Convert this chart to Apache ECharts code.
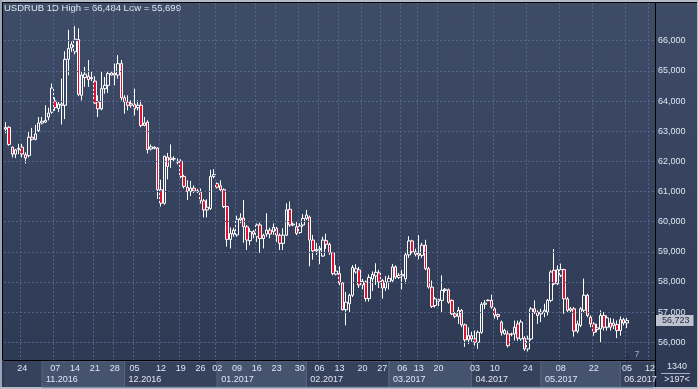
<!DOCTYPE html>
<html><head><meta charset="utf-8">
<script src="https://cdn.jsdelivr.net/npm/echarts@6/dist/echarts.min.js"></script>
<style>html,body{margin:0;padding:0;background:#36425c}#c{width:698px;height:389px}</style>
</head><body><div id="c"></div>
<script>
// ---- data (USDRUB daily) ----
const opens = [63.07,63.13,62.47,62.24,62.40,62.47,62.22,62.19,62.80,62.73,63.02,63.27,63.30,63.47,63.63,64.00,63.75,63.86,63.86,65.38,65.76,65.63,66.04,64.19,64.78,64.82,64.74,64.66,63.97,63.74,64.41,64.52,64.86,64.91,64.86,65.24,64.11,63.97,63.86,63.89,63.78,63.86,63.19,63.30,62.41,62.43,62.44,61.06,60.61,62.14,62.06,62.09,61.97,62.00,61.50,61.14,61.00,61.11,60.99,60.99,60.69,60.39,60.44,61.50,61.26,61.19,61.06,60.50,59.41,59.59,59.56,60.06,60.12,59.83,59.37,59.67,59.50,59.89,59.44,59.59,59.72,59.67,59.78,59.55,59.28,59.55,60.41,59.89,59.83,59.64,59.89,60.11,60.15,59.39,59.03,59.06,58.86,59.37,59.25,58.97,58.26,58.28,57.97,57.08,57.28,57.56,58.33,58.40,57.90,58.00,57.45,58.10,58.20,58.30,58.05,57.80,58.00,58.05,58.50,58.15,58.20,58.10,58.90,59.36,58.92,58.95,58.88,59.22,58.44,57.83,57.22,57.36,57.39,57.72,57.74,57.39,56.94,56.86,57.06,56.58,56.08,56.22,56.11,56.00,56.33,57.26,57.38,57.39,57.11,56.92,56.67,56.28,56.28,56.26,56.28,56.61,56.11,56.14,55.78,56.11,57.11,57.00,56.94,57.00,57.00,57.39,58.39,57.94,58.22,58.41,57.44,57.06,57.11,56.37,56.56,57.06,57.56,56.83,56.61,56.42,56.44,56.89,56.50,56.64,56.56,56.59,56.39,56.75,56.64];
const closes = [63.12,62.56,62.24,62.38,62.43,62.24,62.11,62.80,62.73,62.91,63.27,63.33,63.36,63.60,64.43,63.78,63.90,63.90,65.38,65.74,65.88,66.05,64.22,64.86,64.89,64.71,64.78,63.93,63.74,64.41,64.52,64.91,64.93,64.86,65.24,64.11,63.97,63.86,63.91,63.74,63.86,63.19,63.27,62.39,62.48,62.47,61.06,60.61,62.17,61.83,62.11,62.08,62.00,61.50,61.17,61.00,61.11,61.02,61.02,60.69,60.39,60.48,61.50,61.56,61.14,61.06,60.50,59.41,59.61,59.72,60.08,60.12,59.83,59.39,59.67,59.59,59.89,59.44,59.55,59.72,59.59,59.81,59.55,59.28,59.55,60.39,59.89,59.92,59.61,59.86,60.11,60.22,59.39,59.03,59.08,59.11,59.39,59.25,58.97,58.28,58.36,57.97,57.08,57.33,57.56,58.48,58.44,57.90,58.02,57.45,58.15,58.25,58.32,58.00,57.80,58.00,58.12,58.50,58.16,58.22,58.25,58.90,59.36,59.00,59.00,58.88,59.22,58.44,57.83,57.19,57.44,57.42,57.72,57.76,57.33,56.94,56.86,57.06,56.58,56.08,56.22,56.11,56.00,56.33,57.26,57.30,57.40,57.17,56.89,56.86,56.33,56.39,55.89,56.28,56.50,56.14,56.67,55.78,56.11,57.11,57.00,56.89,57.00,57.06,57.39,58.33,57.94,58.41,58.41,57.44,57.06,57.11,56.37,56.61,57.11,57.56,56.89,56.61,56.33,56.48,56.89,56.50,56.81,56.50,56.64,56.39,56.75,56.64,56.723];
const lows = [62.93,62.52,62.13,62.11,62.24,62.13,61.93,62.13,62.69,62.69,62.97,63.22,63.27,63.36,63.58,63.68,63.63,63.22,63.40,64.85,65.63,65.55,64.16,64.02,64.47,64.47,64.66,63.91,63.47,63.69,64.24,64.27,64.86,64.52,64.74,64.02,63.58,63.69,63.78,63.52,63.69,63.13,63.16,62.26,62.36,62.40,60.75,60.50,60.56,61.40,61.78,62.00,61.90,61.44,61.10,60.72,60.85,60.95,60.95,60.60,60.14,60.14,60.39,61.44,61.10,61.00,60.45,59.17,59.11,59.50,59.50,59.95,59.30,59.06,59.22,59.45,59.33,58.97,59.11,59.50,59.45,59.56,59.33,59.06,59.06,59.52,59.83,59.85,59.55,59.60,59.83,60.05,58.52,58.74,58.90,58.59,58.83,59.10,58.90,58.22,58.22,57.89,57.05,56.56,57.00,57.50,58.28,57.80,57.75,57.35,57.35,57.70,57.90,57.80,57.45,57.70,57.75,58.00,58.10,58.10,57.75,57.95,58.80,58.95,58.85,58.75,58.80,58.39,57.78,57.14,57.15,57.20,56.97,57.65,57.28,56.90,56.80,56.61,56.50,55.85,55.94,56.02,55.89,55.78,56.28,57.10,57.36,57.11,56.78,56.75,56.22,56.25,55.83,56.20,56.06,56.05,56.05,55.72,55.699,56.06,56.94,56.61,56.67,56.83,56.89,57.33,57.89,57.89,58.16,56.94,57.00,57.00,56.19,56.30,56.50,57.00,56.83,56.50,56.22,56.33,56.00,56.39,56.39,56.39,56.44,56.14,56.22,56.56,56.47];
const highs = [63.30,63.16,62.49,62.41,62.58,62.58,62.30,62.97,63.11,63.21,63.47,63.47,63.86,63.78,64.58,64.12,63.97,64.74,65.65,66.36,65.97,66.484,66.41,64.97,65.13,65.36,64.97,64.82,64.19,64.97,64.80,64.97,64.97,65.24,65.52,65.36,64.19,64.19,64.02,64.41,64.02,64.02,63.47,63.36,62.56,62.50,62.47,61.39,62.19,62.28,62.56,62.17,62.10,62.07,61.55,61.37,61.35,61.20,61.08,61.10,60.75,60.74,61.72,61.74,61.30,61.37,61.10,60.52,59.81,59.80,60.20,60.28,60.72,59.89,59.78,59.72,59.94,59.97,59.60,60.28,59.80,59.94,59.83,59.61,59.78,60.61,60.67,59.97,60.00,59.95,60.25,60.39,60.20,59.56,59.30,59.20,59.50,59.60,59.30,59.00,58.56,58.52,58.00,57.67,57.61,58.56,58.59,58.50,58.10,58.05,58.25,58.35,58.62,58.40,58.10,58.20,58.22,58.60,58.55,58.30,58.40,59.00,59.52,59.40,59.10,59.55,59.30,59.40,58.50,58.05,57.50,57.45,58.22,57.80,57.78,57.42,57.00,57.17,57.10,56.62,56.50,56.35,56.39,56.39,57.33,57.40,57.42,57.58,57.17,56.95,56.72,56.45,56.39,56.32,56.72,56.72,56.75,56.20,56.22,57.17,57.39,57.06,57.11,57.28,57.44,58.39,59.09,58.55,58.61,58.44,57.50,57.17,57.17,56.72,57.17,58.11,57.61,56.89,56.67,56.61,57.06,57.00,56.89,56.81,56.78,56.72,56.86,56.81,56.81];

const slotCount = 197;                       // visible bar slots (">197<")
const slots = Array.from({length: slotCount}, (_, i) => 'b' + i);
const dayLabelIdx  = [5,15,21,27,33,39,47,53,59,64,70,76,82,89,95,101,108,114,120,125,131,142,148,158,168,178,188,195];
const dayLabelText = ['24','07','14','21','28','05','12','19','26','02','09','16','23','30','06','13','20','27','06','13','20','03','10','24','08','22','05','12'];
const monthIdx  = [11,36,64,91,116,141,162,186];
const monthText = ['11.2016','12.2016','01.2017','02.2017','03.2017','04.2017','05.2017','06.2017'];
const yTicks = [56,57,58,59,60,61,62,63,64,65,66];
const yMin = 55.413, yMax = 67.25;

// ---- build ----
const candles = opens.map((o, i) => [o, closes[i], lows[i], highs[i]]);
const slotIndex = v => +String(v).slice(1);
const dayMap = {}; dayLabelIdx.forEach((k, j) => dayMap[k] = dayLabelText[j]);
const monMap = {}; monthIdx.forEach((k, j) => monMap[k] = monthText[j]);
const fmt = v => v.toFixed(3).replace('.', ',');
const hi = Math.max(...highs), lo = Math.min(...lows);
const lastClose = closes[closes.length - 1];
const FONT = 'Liberation Sans, Arial, sans-serif';
const TXT = '#dfe6f2';
const GRID = '#55648a';

const monthAreas = monthIdx.map((s, j) => {
  const e = j + 1 < monthIdx.length ? monthIdx[j + 1] : slotCount - 1;
  return [{xAxis: slots[s], itemStyle: {color: j % 2 === 0 ? '#46536f' : '#36425c', borderColor: '#56647f', borderWidth: 1}},
          {xAxis: slots[e]}];
});

const chart = echarts.init(document.getElementById('c'), null, {renderer: 'canvas'});
chart.setOption({
  animation: false,
  backgroundColor: new echarts.graphic.LinearGradient(0, 0, 0, 1, [
    {offset: 0, color: '#3f4c68'}, {offset: 1, color: '#2d3953'}]),
  title: {text: 'USDRUB 1D High = ' + fmt(hi) + ' Low = ' + fmt(lo), left: 4, top: 3, padding: 0,
    textStyle: {fontSize: 9.5, fontWeight: 'normal', color: TXT, fontFamily: FONT}},
  grid: [
    {left: 4, right: 43, top: 3, bottom: 29, show: false},
    {left: 4, right: 43, top: 361, bottom: 2, show: true, backgroundColor: '#36425c', borderWidth: 0}
  ],
  xAxis: [
    {type: 'category', gridIndex: 0, data: slots, boundaryGap: true, z: 10,
      axisLine: {show: true, lineStyle: {color: '#000', width: 1}},
      axisTick: {show: false},
      axisLabel: {interval: i => dayMap[i] !== undefined, formatter: v => dayMap[slotIndex(v)] || '',
        color: TXT, fontSize: 9, fontFamily: FONT, margin: 3, lineHeight: 11},
      splitLine: {show: true, interval: i => dayMap[i] !== undefined,
        lineStyle: {color: GRID, type: [2, 2], width: 1}}},
    {type: 'category', gridIndex: 0, data: slots, boundaryGap: true, position: 'bottom', offset: 11, z: 10,
      axisLine: {show: false}, axisTick: {show: false}, splitLine: {show: false},
      axisLabel: {interval: i => monMap[i] !== undefined, formatter: v => monMap[slotIndex(v)] || '',
        align: 'left', padding: [0, 0, 0, 4], color: TXT, fontSize: 9, fontFamily: FONT, margin: 3, lineHeight: 11}},
    {type: 'category', gridIndex: 1, data: slots, boundaryGap: true, show: false}
  ],
  yAxis: [
    {type: 'value', gridIndex: 0, position: 'right', min: yMin, max: yMax, splitNumber: 12, z: 10,
      axisLine: {show: true, lineStyle: {color: '#000', width: 1}}, axisTick: {show: false},
      axisLabel: {margin: 3, color: TXT, fontSize: 9, fontFamily: FONT,
        formatter: v => yTicks.includes(Math.round(v * 1000) / 1000) ? fmt(v) : '',
        showMinLabel: false, showMaxLabel: false},
      splitLine: {show: false}},
    {type: 'value', gridIndex: 1, min: 0, max: 1, show: false}
  ],
  series: [
    {type: 'line', xAxisIndex: 2, yAxisIndex: 1, data: [], silent: true, z: 1,
      markArea: {silent: true, data: monthAreas}},
    {type: 'line', xAxisIndex: 0, yAxisIndex: 0, data: [], silent: true, z: 1,
      markLine: {silent: true, symbol: ['none', 'none'], label: {show: false},
        lineStyle: {color: GRID, type: [2, 2], width: 1},
        data: yTicks.map(v => ({yAxis: v}))}},
    {type: 'candlestick', xAxisIndex: 0, yAxisIndex: 0, data: candles, barWidth: 3, z: 3,
      itemStyle: {color: 'transparent', color0: '#e2102e', borderColor: '#ffffff', borderColor0: '#ffffff', borderWidth: 1},
      markLine: {silent: true, symbol: ['none', 'none'],
        lineStyle: {color: 'rgba(0,0,0,0)', width: 0, opacity: 1},
        data: [{yAxis: lastClose}],
        label: {show: true, position: 'end', distance: 1, opacity: 1, formatter: fmt(lastClose),
          backgroundColor: '#bcc3ce', color: '#26314a', fontSize: 9, fontFamily: FONT, padding: [1, 4, 1, 6]}}}
  ],
  graphic: [
    {type: 'rect', shape: {x: 0, y: 0, width: 698, height: 2}, style: {fill: '#b4bcc9'}, silent: true},
    {type: 'rect', shape: {x: 0, y: 2, width: 698, height: 1}, style: {fill: '#000'}, silent: true},
    {type: 'rect', shape: {x: 0, y: 0, width: 2, height: 389}, style: {fill: '#9aa4b5'}, silent: true},
    {type: 'rect', shape: {x: 2, y: 2, width: 1, height: 358}, style: {fill: '#000'}, silent: true},
    {type: 'rect', shape: {x: 0, y: 387, width: 698, height: 2}, style: {fill: '#b4bcc9'}, silent: true},
    {type: 'rect', shape: {x: 697, y: 0, width: 1, height: 389}, style: {fill: '#b4bcc9'}, silent: true},
    {type: 'rect', shape: {x: 655, y: 360, width: 1, height: 27}, style: {fill: '#000'}, silent: true},
    {type: 'rect', shape: {x: 661, y: 373, width: 29, height: 1}, style: {fill: '#aab4c4'}, silent: true},
    {type: 'text', x: 677, y: 367, style: {text: '1340', fill: TXT, font: '9px ' + FONT, align: 'center', verticalAlign: 'middle'}, silent: true},
    {type: 'text', x: 677, y: 380, style: {text: '>197<', fill: TXT, font: '9px ' + FONT, align: 'center', verticalAlign: 'middle'}, silent: true},
    {type: 'text', x: 637, y: 355, style: {text: '7', fill: '#8fb4e0', font: '9px ' + FONT, align: 'center', verticalAlign: 'middle'}, silent: true},
    {type: 'polygon', shape: {points: [[623, 359], [631, 359], [627, 354]]}, style: {fill: '#27314a'}, silent: true}
  ]
});
</script>
</body></html>
